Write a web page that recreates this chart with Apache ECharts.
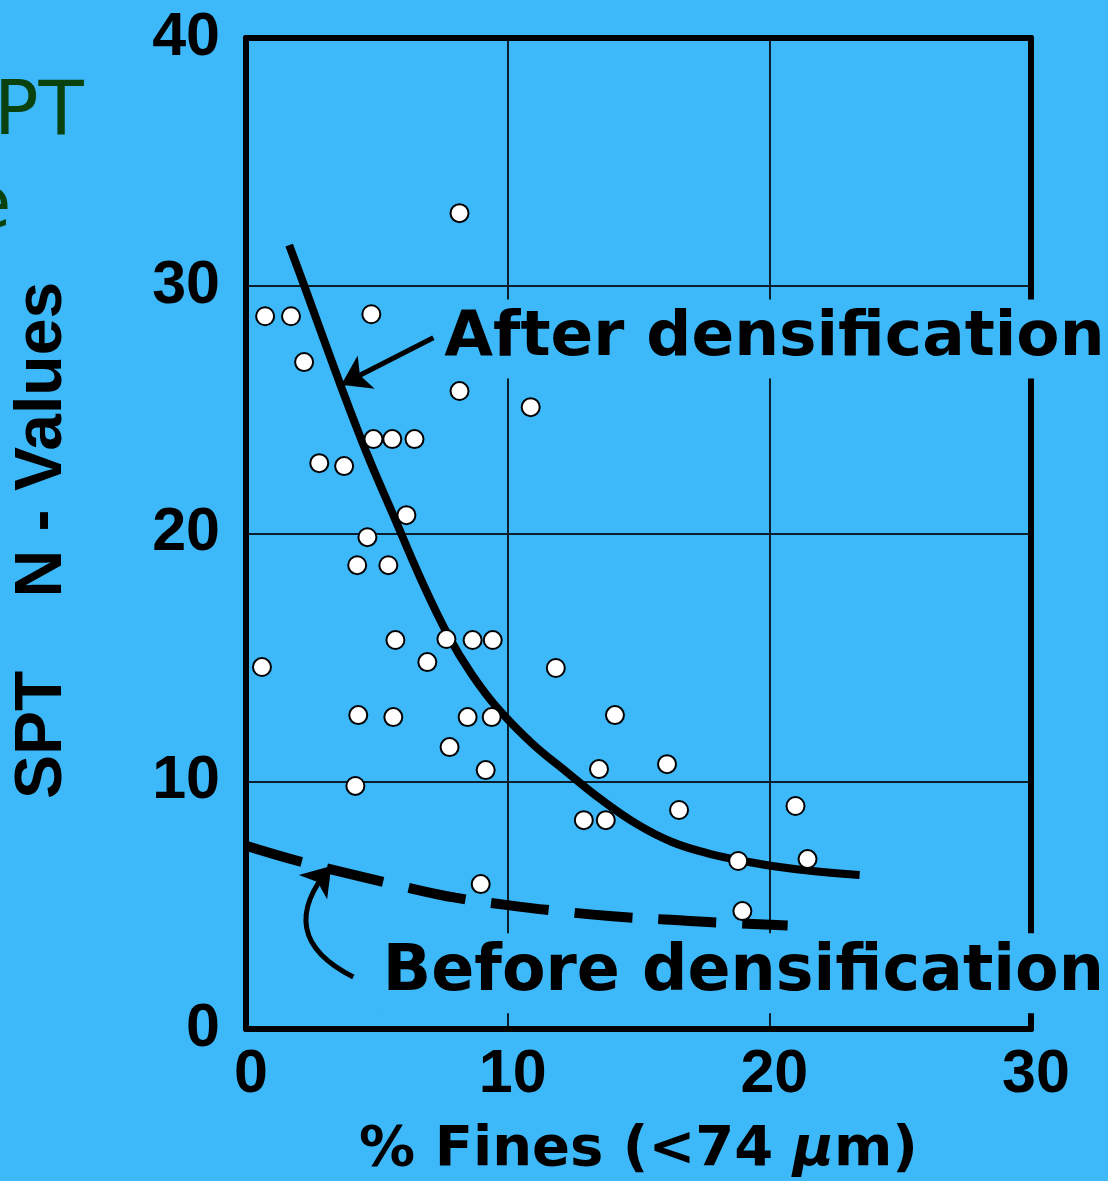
<!DOCTYPE html>
<html><head><meta charset="utf-8">
<script src="https://cdn.jsdelivr.net/npm/echarts@6/dist/echarts.min.js"></script>
<style>html,body{margin:0;padding:0;background:#3db8f9;}#c{width:1108px;height:1181px;}</style>
</head><body><div id="c"></div>
<script>
// ---- data ----
const finesPct = [0.73,1.72,2.22,4.79,8.16,8.16,10.88,2.80,3.75,4.87,5.59,6.44,6.13,4.64,4.25,5.44,0.61,5.71,6.93,7.66,8.66,9.43,11.84,4.29,5.63,8.47,9.39,7.78,9.16,4.18,14.10,13.49,16.09,12.91,13.75,16.55,21.0,18.81,21.46,8.97,18.97];
const sptN     = [28.77,28.77,26.92,28.85,32.93,25.75,25.10,22.84,22.72,23.81,23.81,23.81,20.74,19.85,18.72,18.72,14.61,15.70,14.81,15.74,15.70,15.70,14.57,12.67,12.59,12.59,12.59,11.38,10.45,9.81,12.67,10.49,10.69,8.43,8.43,8.84,9.0,6.78,6.86,5.85,4.76];
const afterCurveX = [1.65,2.26,3.64,4.60,5.63,6.70,7.74,8.62,9.58,10.92,12.26,13.60,14.94,16.28,17.62,18.81,20.11,21.65,23.45];
const afterCurveY = [31.64,29.90,25.91,23.28,20.74,18.12,15.86,14.33,12.99,11.54,10.37,9.24,8.27,7.55,7.10,6.82,6.58,6.38,6.22];
const beforeCurveX = [0,2.1,4.0,6.0,8.0,10.0,12.0,14.0,16.0,18.0,20.7];
const beforeCurveY = [7.4,6.75,6.25,5.75,5.3,5.0,4.75,4.55,4.42,4.3,4.18];
const xTickLabels = ['0','10','20','30'];
const yTickLabels = ['0','10','20','30','40'];
const xAxisTitle = '% Fines (<74 {mu|\u03bc}m)';
const yAxisTitle = 'SPT    N - Values';
const annotationText = ['After densification','Before densification'];
const annotationX = [7.35, 5.0];
const annotationY = [27.85, 2.25];
const annotationSize = [63, 63.5];
const arrowFrom = [[7.16,27.9],[4.10,2.10]];
const arrowTo   = [[3.64,26.0],[3.26,6.58]];
const arrowCurve = [0, 0.64];

const BLUE = '#3db8f9';
const chart = echarts.init(document.getElementById('c'), null, {renderer:'canvas'});

const pts = finesPct.map((x,i)=>[x, sptN[i]]);
const afterPts = afterCurveX.map((x,i)=>[x, afterCurveY[i]]);
const beforePts = beforeCurveX.map((x,i)=>[x, beforeCurveY[i]]);

const tickFont = {fontFamily:'"Liberation Sans", Arial, sans-serif', fontWeight:'bold', fontSize:61, color:'#000'};

chart.setOption({
  backgroundColor: BLUE,
  animation: false,
  grid: {left:246, top:38, width:785, height:991, containLabel:false, outerBoundsMode:'none'},
  graphic: [
    {type:'text', x:-6, y:78, silent:true, style:{text:'PT', font:'74px "DejaVu Sans", sans-serif', fill:'#0a420f'}},
    {type:'text', x:-33, y:172, silent:true, style:{text:'e', font:'72px "DejaVu Sans", sans-serif', fill:'#0a420f'}}
  ],
  xAxis: [
    {type:'value', min:0, max:30, interval:10, position:'bottom', gridIndex:0,
     axisLine:{show:true, onZero:false, lineStyle:{color:'#000', width:6}},
     axisTick:{show:false},
     splitLine:{show:true, lineStyle:{color:'#0b1e2c', width:2}},
     axisLabel:Object.assign({margin:16, padding:[0,0,0,10], formatter:v=>xTickLabels[Math.round(v/10)]}, tickFont),
     name:xAxisTitle, nameLocation:'middle', nameGap:93,
     nameTextStyle:{fontFamily:'"DejaVu Sans", sans-serif', fontWeight:'bold', fontSize:56, color:'#000',
       rich:{mu:{fontFamily:'"DejaVu Sans", sans-serif', fontWeight:'bold', fontStyle:'italic', fontSize:56, color:'#000'}}}
    },
    {type:'value', min:0, max:30, interval:10, position:'top', gridIndex:0,
     axisLine:{show:true, onZero:false, lineStyle:{color:'#000', width:6}},
     axisTick:{show:false}, axisLabel:{show:false}, splitLine:{show:false}}
  ],
  yAxis: [
    {type:'value', min:0, max:40, interval:10, position:'left', gridIndex:0,
     axisLine:{show:true, onZero:false, lineStyle:{color:'#000', width:6}},
     axisTick:{show:false},
     splitLine:{show:true, lineStyle:{color:'#0b1e2c', width:2}},
     axisLabel:Object.assign({margin:26, formatter:v=>yTickLabels[Math.round(v/10)]}, tickFont),
     name:yAxisTitle, nameLocation:'middle', nameGap:170, nameRotate:90,
     nameTextStyle:{fontFamily:'"Liberation Sans", Arial, sans-serif', fontWeight:'bold', fontSize:66, color:'#000', padding:[0,14,0,0]}
    },
    {type:'value', min:0, max:40, interval:10, position:'right', gridIndex:0,
     axisLine:{show:true, onZero:false, lineStyle:{color:'#000', width:6}},
     axisTick:{show:false}, axisLabel:{show:false}, splitLine:{show:false}}
  ],
  series: [
    {type:'line', name:'After densification', data:afterPts, smooth:0.4, showSymbol:false, symbol:'none', z:3,
     lineStyle:{color:'#000', width:8}},
    {type:'line', name:'Before densification', data:beforePts, smooth:0.4, showSymbol:false, symbol:'none', z:3,
     lineStyle:{color:'#000', width:10, type:[58,26], cap:'butt'}},
    {type:'lines', coordinateSystem:'cartesian2d', z:3, silent:true,
     symbol:['none','arrow'], symbolSize:[22,28],
     data: arrowFrom.map((f,i)=>({coords:[f, arrowTo[i]], lineStyle:{curveness:arrowCurve[i]}})),
     lineStyle:{color:'#000', width:5, opacity:1}},
    {type:'scatter', name:'data', data:pts, symbol:'circle', symbolSize:18, z:5,
     itemStyle:{color:'#fff', borderColor:'#000', borderWidth:2, opacity:1}},
    {type:'scatter', name:'labels', z:6, silent:true, symbolSize:0,
     itemStyle:{opacity:1},
     data: annotationText.map((t,i)=>({name:t, value:[annotationX[i], annotationY[i]],
       label:{fontSize:annotationSize[i]}})),
     label:{show:true, position:'right', distance:0, formatter:'{b}', color:'#000',
       fontFamily:'"DejaVu Sans", sans-serif', fontWeight:'bold',
       backgroundColor:BLUE, padding:[10,6,6,6]}}
  ]
});
</script></body></html>
